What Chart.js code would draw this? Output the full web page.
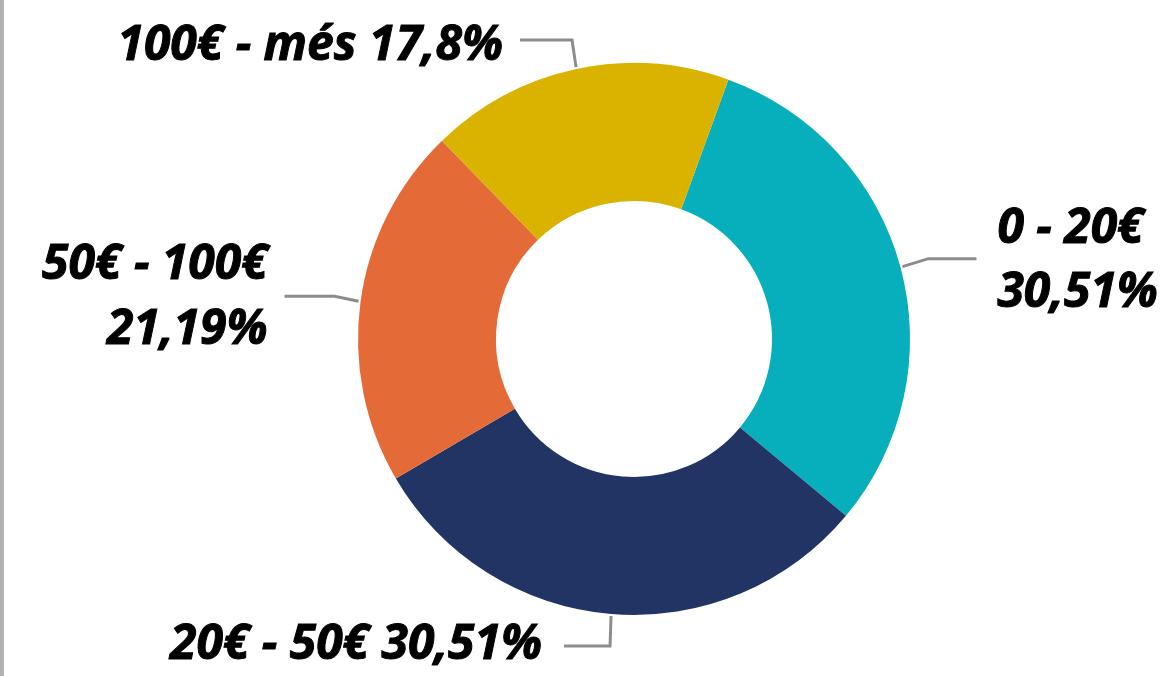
<!DOCTYPE html>
<html>
<head>
<meta charset="utf-8">
<script src="https://cdn.jsdelivr.net/npm/chart.js@4.4.1/dist/chart.umd.min.js"></script>
<style>
html,body{margin:0;padding:0;background:#fff;}
#wrap{position:relative;width:1167px;height:676px;}
#bar{position:absolute;left:0;top:0;width:4px;height:676px;background:#b2b2b2;}
</style>
</head>
<body>
<div id="wrap"><div id="bar"></div><canvas id="c" width="1167" height="676"></canvas></div>
<script>
const categories = ["0 - 20€", "20€ - 50€", "50€ - 100€", "100€ - més"];
const values = [30.51, 30.51, 21.19, 17.8];
const valueLabels = ["30,51%", "30,51%", "21,19%", "17,8%"];
const colors = ["#07aebc", "#223464", "#e46b38", "#dab301"];

// label layout: text lines, alignment, leader elbow offsets (relative to anchor)
const labelLayout = [
  {lines:[categories[0], valueLabels[0]], align:"left", elbow:[[26,-8],[74,-8]], tx:95, ty:[-24,40]},
  {lines:[categories[1] + " " + valueLabels[1]], align:"right", elbow:[[-1,30],[-47,30]], tx:-69, ty:[43]},
  {lines:[categories[2], valueLabels[2]], align:"right", elbow:[[-24,-5],[-74,-5]], tx:-91, ty:[-22,43]},
  {lines:[categories[3] + " " + valueLabels[3]], align:"right", elbow:[[-4,-27],[-56,-27]], tx:-73, ty:[-7]}
];

const labelPlugin = {
  id: "labels",
  afterDraw(chart) {
    const ctx = chart.ctx;
    const meta = chart.getDatasetMeta(0);
    meta.data.forEach((arc, i) => {
      const p = arc.getProps(["x","y","startAngle","endAngle","outerRadius"], true);
      const mid = (p.startAngle + p.endAngle) / 2;
      const r = p.outerRadius + 2;
      const ax = p.x + Math.cos(mid) * r;
      const ay = p.y + Math.sin(mid) * r;
      const L = labelLayout[i];
      ctx.save();
      ctx.strokeStyle = "#8c8c8c";
      ctx.lineWidth = 3;
      ctx.beginPath();
      ctx.moveTo(ax, ay);
      L.elbow.forEach(e => ctx.lineTo(ax + e[0], ay + e[1]));
      ctx.stroke();
      ctx.fillStyle = "#000";
      ctx.strokeStyle = "#000";
      ctx.lineWidth = 1;
      ctx.font = "italic bold 48px 'Open Sans'";
      ctx.textBaseline = "alphabetic";
      L.lines.forEach((t, k) => {
        const x = ax + L.tx, y = ay + L.ty[k];
        ctx.save();
        ctx.translate(x, y);
        ctx.textAlign = L.align;
        ctx.fillText(t, 0, 0);
        ctx.strokeText(t, 0, 0);
        ctx.restore();
      });
      ctx.restore();
    });
  }
};

new Chart(document.getElementById("c"), {
  type: "doughnut",
  data: {
    labels: categories,
    datasets: [{
      data: values,
      backgroundColor: colors,
      borderWidth: 0
    }]
  },
  options: {
    responsive: false,
    animation: false,
    rotation: 20,
    cutout: "50%",
    layout: {padding: {top: 63, bottom: 61, left: 358, right: 257}},
    plugins: {legend: {display: false}, tooltip: {enabled: false}}
  },
  plugins: [labelPlugin]
});
</script>
</body>
</html>
